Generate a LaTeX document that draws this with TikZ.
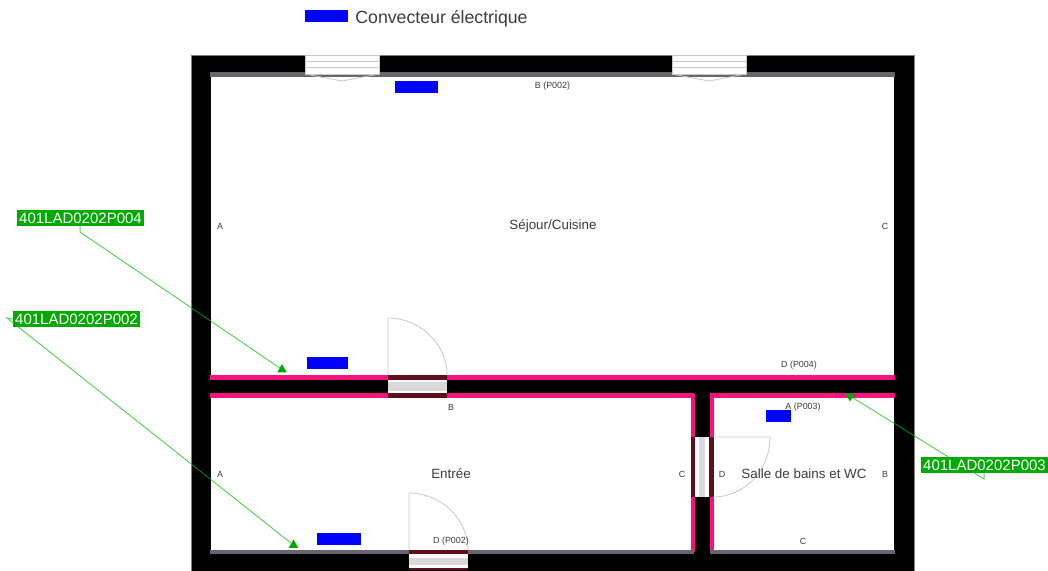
\documentclass[tikz,border=0pt]{standalone}
\usepackage{fontspec}
\setmainfont{Liberation Sans}
\usepackage{xcolor}
\usetikzlibrary{backgrounds,positioning,shapes.geometric}
\definecolor{txtgray}{RGB}{60,60,60}
\definecolor{tagfill}{RGB}{0,170,0}
\definecolor{stripgray}{RGB}{105,100,110}
\definecolor{strippink}{RGB}{245,20,125}
\definecolor{doorbrown}{RGB}{95,15,25}
\definecolor{frameline}{RGB}{200,200,200}
\tikzset{%
	convector/.style = {fill=blue, inner sep=0pt},
	roomlabel/.style = {text=txtgray, font=\fontsize{13.4}{15}\selectfont, inner sep=0pt},
	walllabel/.style = {text=txtgray, font=\fontsize{8.9}{10}\selectfont, inner sep=0pt},
	tagbox/.style    = {fill=tagfill, text=white, font=\fontsize{15}{17}\selectfont, minimum width=127pt, minimum height=16pt, inner sep=0pt},
	tagtip/.style    = {regular polygon, regular polygon sides=3, fill=tagfill, minimum size=11pt, inner sep=0pt},
	tagline/.style   = {draw=green!75!black, opacity=0.65, line width=1pt},
	frame/.style     = {draw=frameline, line width=0.8pt},
	greystrip/.style = {fill=stripgray},
	pinkstrip/.style = {fill=strippink},
	doorstrip/.style = {fill=doorbrown},
}
\begin{document}
\begin{tikzpicture}[x=1pt,y=-1pt]
	\useasboundingbox (0,0) rectangle (1048,570);
	% legend
	\node[convector,minimum width=43pt,minimum height=12pt] (keyconv) at (326.5,16) {};
	\node[right=7pt of keyconv,yshift=-3pt,text=txtgray,font=\fontsize{17.7}{20}\selectfont,inner sep=0pt] (keytext) {Convecteur électrique};
	% convectors
	\node[convector,minimum width=43pt,minimum height=12pt] (convsejour) at (416.5,87) {};
	\node[convector,minimum width=41pt,minimum height=12pt] (convsejourb) at (327.5,363) {};
	\node[convector,minimum width=44pt,minimum height=12pt] (conventree) at (339,539) {};
	\node[convector,minimum width=25pt,minimum height=12pt] (convsdb) at (778.5,416) {};
	% room names
	\node[roomlabel] (sejour) at (553,225.5) {Séjour/Cuisine};
	\node[roomlabel] (entree) at (451,474) {Entrée};
	\node[roomlabel] (sdb) at (804,474) {Salle de bains et WC};
	% wall letters
	\node[walllabel] (sejourA) at (220,226) {A};
	\node[walllabel] (sejourB) at (552.5,86.5) {B (P002)};
	\node[walllabel] (sejourC) at (885,226) {C};
	\node[walllabel] (sejourD) at (799,365) {D (P004)};
	\node[walllabel] (entreeA) at (220,474) {A};
	\node[walllabel] (entreeB) at (451,407) {B};
	\node[walllabel] (entreeC) at (682,474) {C};
	\node[walllabel] (entreeD) at (451,541) {D (P002)};
	\node[walllabel] (sdbA) at (803,407) {A (P003)};
	\node[walllabel] (sdbB) at (885,474) {B};
	\node[walllabel] (sdbC) at (803,541) {C};
	\node[walllabel] (sdbD) at (722,474) {D};
	% tags and their end marks
	\node[tagbox] (tagfour) at (80.5,218) {401LAD0202P004};
	\node[tagbox] (tagtwo) at (76.5,319) {401LAD0202P002};
	\node[tagbox] (tagthree) at (984.5,465) {401LAD0202P003};
	\node[tagtip] (tipfour) at (282,369.5) {};
	\node[tagtip] (tiptwo) at (293.5,545) {};
	\node[tagtip,shape border rotate=180] (tipthree) at (850,396) {};
	\coordinate (bendfour) at (80,232);
	\coordinate (bendtwo) at (7,318);
	\coordinate (bendthree) at (984,479);
	\begin{scope}[on background layer]
		% walls and rooms
		\fill[draw=gray,line width=0.6pt] (191,55) rectangle (914,572);
		\fill[white] (211,74) rectangle (894,375);
		\fill[white] (211,397) rectangle (691,550);
		\fill[white] (713,397) rectangle (894,550);
		% coloured wall faces
		\fill[greystrip] (210,72) rectangle (895,76.5);
		\fill[pinkstrip] (210,374.5) rectangle (895,379.5);
		\fill[pinkstrip] (210,392.5) rectangle (694,397.5);
		\fill[pinkstrip] (710,392.5) rectangle (895,397.5);
		\fill[pinkstrip] (690.5,394) rectangle (694.5,552);
		\fill[pinkstrip] (709.5,394) rectangle (713.5,552);
		\fill[greystrip] (210,549.5) rectangle (694,553.5);
		\fill[greystrip] (710,549.5) rectangle (895,553.5);
		% windows
		\foreach \wx in {305,672} {
			\fill[white,frame] (\wx,55.5) rectangle (\wx+74,74);
			\foreach \wy in {61.5,67} \draw[frame] (\wx,\wy) -- (\wx+74,\wy);
			\draw[frame] (\wx,74) -- (\wx+37,81) -- (\wx+74,74);
		}
		% door sejour
		\fill[white] (388,375) rectangle (447,397);
		\fill[black!15] (388,382) rectangle (447,391);
		\fill[doorstrip] (388,374.5) rectangle (447,379.5);
		\fill[doorstrip] (388,392.5) rectangle (447,397.5);
		\draw[frame] (388,375) -- (388,318) .. controls (420,318) and (447,344) .. (447,375);
		% door entree
		\fill[white] (409,550) rectangle (468,570);
		\fill[black!15] (409,558) rectangle (468,565);
		\fill[doorstrip] (409,550) rectangle (468,554);
		\fill[doorstrip] (409,568) rectangle (468,570);
		\draw[frame] (409,550) -- (409,493) .. controls (440,493) and (468,518) .. (468,550);
		% door salle de bains
		\fill[white] (691,437) rectangle (713,497);
		\fill[black!15] (699,437) rectangle (705,497);
		\fill[doorstrip] (690.5,437) rectangle (695,497);
		\fill[doorstrip] (709,437) rectangle (713.5,497);
		\draw[frame] (713,437) -- (770,437) .. controls (770,470) and (745,497) .. (713,497);
		% tag connectors
		\draw[tagline] (tagfour.south -| bendfour) -- (bendfour) -- (tipfour);
		\draw[tagline] (tagtwo.west) -- (bendtwo) -- (tiptwo);
		\draw[tagline] (tagthree.south -| bendthree) -- (bendthree) -- (tipthree);
	\end{scope}
\end{tikzpicture}
\end{document}
